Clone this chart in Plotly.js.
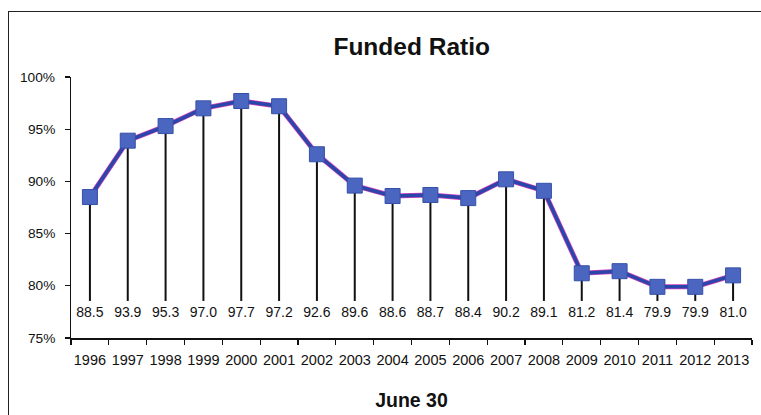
<!DOCTYPE html>
<html>
<head>
<meta charset="utf-8">
<script src="https://cdn.plot.ly/plotly-3.0.1.min.js"></script>
<style>
html,body{margin:0;padding:0;background:#fff;}
#wrap{position:absolute;left:0;top:0;width:761px;height:415px;}
#frame{position:absolute;left:8px;top:11px;width:760px;height:420px;border-top:1.5px solid #222;border-left:1.5px solid #222;pointer-events:none;}
#chart{position:absolute;left:0;top:0;width:761px;height:415px;}
</style>
</head>
<body>
<div id="wrap"><div id="chart"></div><div id="frame"></div></div>
<script>
const years = ['1996','1997','1998','1999','2000','2001','2002','2003','2004','2005','2006','2007','2008','2009','2010','2011','2012','2013'];
const funded = [88.5,93.9,95.3,97.0,97.7,97.2,92.6,89.6,88.6,88.7,88.4,90.2,89.1,81.2,81.4,79.9,79.9,81.0];
const yTicks = [75, 80, 85, 90, 95, 100];
const labelLevel = 77.3;
const dropBottom = 78.55;

const dropX = [], dropY = [];
years.forEach((yr, i) => { dropX.push(yr, yr, null); dropY.push(funded[i], dropBottom, null); });

const font = 'Liberation Sans, Arial, sans-serif';

const traces = [
  {x: dropX, y: dropY, mode: 'lines', line: {color: '#111', width: 2}, hoverinfo: 'skip', showlegend: false},
  {x: years, y: funded, mode: 'lines', line: {color: '#d040c0', width: 5}, hoverinfo: 'skip', showlegend: false},
  {x: years, y: funded, mode: 'lines+markers', line: {color: '#2a46a8', width: 3.5},
   marker: {symbol: 'square', size: 15, color: '#4a66c0', line: {color: '#3550a8', width: 1}}, showlegend: false},
  {x: years, y: years.map(() => labelLevel), mode: 'text', text: funded.map(v => v.toFixed(1)),
   textposition: 'middle center', textfont: {family: font, size: 14, color: '#111'}, hoverinfo: 'skip', showlegend: false}
];

const yLabelAnn = yTicks.map(v => ({
  xref: 'paper', yref: 'y', x: 0, y: v, xanchor: 'right', yanchor: 'middle', xshift: -14,
  text: v + '%', showarrow: false, font: {family: font, size: 13.7, color: '#111'}
}));

const layout = {
  width: 761, height: 415,
  margin: {l: 71, r: 9, t: 77, b: 77},
  paper_bgcolor: '#fff', plot_bgcolor: '#fff',
  title: {text: '<b>Funded Ratio</b>', font: {family: font, size: 24.5, color: '#111'}, x: 0.541, xanchor: 'center', y: 0.887, yanchor: 'middle'},
  xaxis: {type: 'category', range: [-0.5, 17.5], autorange: false, showline: true, linecolor: '#111', linewidth: 1.5,
          ticks: 'outside', tickson: 'boundaries', tickangle: 0,
          ticklen: 5, tickcolor: '#111', tickwidth: 1.2, showgrid: false, zeroline: false, ticklabelstandoff: 8,
          tickfont: {family: font, size: 14.5, color: '#111'},
          title: {text: '<b>June 30</b>', font: {family: font, size: 19.5, color: '#111'}, standoff: 26}},
  yaxis: {range: [75, 100], autorange: false, tickmode: 'array', tickvals: yTicks, showticklabels: false,
          showline: true, linecolor: '#111', linewidth: 1.5,
          ticks: 'outside', ticklen: 5, tickcolor: '#111', tickwidth: 1.2, showgrid: false, zeroline: false},
  annotations: yLabelAnn,
  showlegend: false
};

Plotly.newPlot('chart', traces, layout, {displayModeBar: false, staticPlot: true});
</script>
</body>
</html>
